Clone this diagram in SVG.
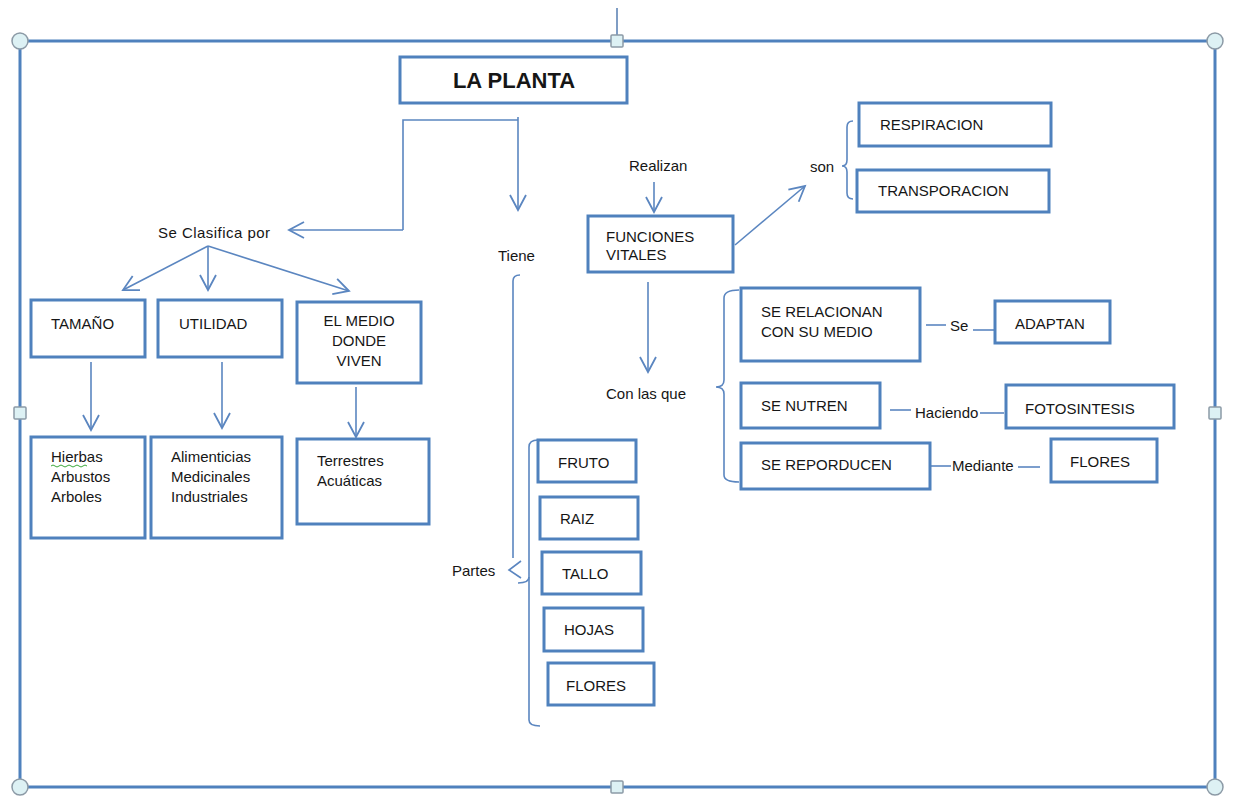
<svg xmlns="http://www.w3.org/2000/svg" width="1233" height="798" viewBox="0 0 1233 798">
<style>
  .box { fill: #ffffff; stroke: #4F81BD; stroke-width: 3; }
  .t { font-family: "Liberation Sans", Arial, sans-serif; font-size: 15px; fill: #161616; }
  .title { font-family: "Liberation Sans", Arial, sans-serif; font-size: 22px; font-weight: bold; fill: #161616; }
  .c { fill: none; stroke: #5B86C0; stroke-width: 1.6; }
  .frame { fill: none; stroke: #4F81BD; stroke-width: 3; }
  .hc { fill: #DDF1F4; stroke: #8C9AA6; stroke-width: 1.5; }
</style>
<defs>
  <marker id="arr" markerUnits="userSpaceOnUse" markerWidth="18" markerHeight="20" refX="15" refY="9" orient="auto" overflow="visible">
    <path d="M0,1 L15,9 L0,17" fill="none" stroke="#5B86C0" stroke-width="1.8"/>
  </marker>
</defs>
<rect width="1233" height="798" fill="#ffffff"/>

<g id="frame">
  <line x1="617" y1="8" x2="617" y2="41" stroke="#7F9DC4" stroke-width="2"/>
  <rect class="frame" x="20" y="41" width="1195" height="746"/>
  <circle class="hc" cx="20" cy="41" r="8"/>
  <circle class="hc" cx="1215" cy="41" r="8"/>
  <circle class="hc" cx="20" cy="787" r="8"/>
  <circle class="hc" cx="1215" cy="787" r="8"/>
  <rect class="hc" x="611" y="35" width="12" height="12" rx="1"/>
  <rect class="hc" x="611" y="781" width="12" height="12" rx="1"/>
  <rect class="hc" x="14" y="407" width="12" height="12" rx="1"/>
  <rect class="hc" x="1209" y="407" width="12" height="12" rx="1"/>
</g>

<g id="connectors">
  <path class="c" d="M403,230 L403,120 L518,120"/>
  <line class="c" x1="403" y1="230" x2="289" y2="230" marker-end="url(#arr)"/>
  <line class="c" x1="518" y1="117" x2="518" y2="210" marker-end="url(#arr)"/>
  <line class="c" x1="208" y1="246" x2="123" y2="290" marker-end="url(#arr)"/>
  <line class="c" x1="208" y1="246" x2="208" y2="290" marker-end="url(#arr)"/>
  <line class="c" x1="208" y1="246" x2="349" y2="291" marker-end="url(#arr)"/>
  <line class="c" x1="91" y1="362" x2="91" y2="430" marker-end="url(#arr)"/>
  <line class="c" x1="222" y1="362" x2="222" y2="428" marker-end="url(#arr)"/>
  <line class="c" x1="356" y1="387" x2="356" y2="437" marker-end="url(#arr)"/>
  <path class="c" d="M520,275 Q513,275 513,281 L513,558"/>
  <path class="c" d="M521,561 L509,570 L521,578"/>
  <path class="c" d="M538,440 Q529,440 529,447 L529,720 Q529,726 540,726"/>
  <path class="c" d="M518,583 Q529,583 529,577"/>
  <line class="c" x1="654" y1="182" x2="654" y2="212" marker-end="url(#arr)"/>
  <line class="c" x1="735" y1="245" x2="805" y2="186" marker-end="url(#arr)"/>
  <path class="c" d="M853,121 Q847,121 847,127 L847,160 Q847,166 842,166 Q847,166 847,172 L847,193 Q847,199 853,199"/>
  <line class="c" x1="648" y1="282" x2="648" y2="372" marker-end="url(#arr)"/>
  <path class="c" d="M739,290 Q724,290 724,298 L724,380 Q724,387 716,387 Q724,387 724,394 L724,475 Q724,482 739,482"/>
  <line class="c" x1="926" y1="325" x2="946" y2="325"/>
  <line class="c" x1="973" y1="330" x2="995" y2="330"/>
  <line class="c" x1="890" y1="410" x2="911" y2="410"/>
  <line class="c" x1="980" y1="413" x2="1004" y2="413"/>
  <line class="c" x1="930" y1="466" x2="951" y2="466"/>
  <line class="c" x1="1018" y1="467" x2="1040" y2="467"/>
</g>

<g id="labels">
  <text class="t" x="158" y="238" textLength="112">Se Clasifica por</text>
  <text class="t" x="498" y="261">Tiene</text>
  <text class="t" x="452" y="576">Partes</text>
  <text class="t" x="629" y="171">Realizan</text>
  <text class="t" x="810" y="172">son</text>
  <text class="t" x="606" y="399">Con las que</text>
  <text class="t" x="950" y="331">Se</text>
  <text class="t" x="915" y="418">Haciendo</text>
  <text class="t" x="952" y="471">Mediante</text>
</g>

<g id="n-planta"><rect class="box" x="400" y="57" width="227" height="46"/><text class="title" x="514" y="88" text-anchor="middle">LA PLANTA</text></g>

<g id="n-tamano"><rect class="box" x="31" y="300" width="114" height="57"/><text class="t" x="51" y="329">TAMAÑO</text></g>
<g id="n-utilidad"><rect class="box" x="158" y="300" width="124" height="57"/><text class="t" x="179" y="329">UTILIDAD</text></g>
<g id="n-medio"><rect class="box" x="297" y="302" width="124" height="81"/>
  <text class="t" x="359" y="326" text-anchor="middle">EL  MEDIO</text>
  <text class="t" x="359" y="346" text-anchor="middle">DONDE</text>
  <text class="t" x="359" y="366" text-anchor="middle">VIVEN</text></g>

<g id="n-hierbas"><rect class="box" x="31" y="437" width="114" height="101"/>
  <text class="t" x="51" y="462">Hierbas</text>
  <path d="M51,466 q2,-2 4,0 t4,0 t4,0 t4,0 t4,0 t4,0 t4,0 t4,0 t4,0" fill="none" stroke="#3aa83a" stroke-width="1"/>
  <text class="t" x="51" y="482">Arbustos</text>
  <text class="t" x="51" y="502">Arboles</text></g>
<g id="n-alimenticias"><rect class="box" x="151" y="437" width="131" height="101"/>
  <text class="t" x="171" y="462">Alimenticias</text>
  <text class="t" x="171" y="482">Medicinales</text>
  <text class="t" x="171" y="502">Industriales</text></g>
<g id="n-terrestres"><rect class="box" x="297" y="439" width="132" height="85"/>
  <text class="t" x="317" y="466">Terrestres</text>
  <text class="t" x="317" y="486">Acuáticas</text></g>

<g id="n-fruto"><rect class="box" x="538" y="440" width="98" height="42"/><text class="t" x="558" y="468">FRUTO</text></g>
<g id="n-raiz"><rect class="box" x="540" y="497" width="98" height="42"/><text class="t" x="560" y="524">RAIZ</text></g>
<g id="n-tallo"><rect class="box" x="542" y="552" width="99" height="42"/><text class="t" x="562" y="579">TALLO</text></g>
<g id="n-hojas"><rect class="box" x="544" y="608" width="99" height="43"/><text class="t" x="564" y="635">HOJAS</text></g>
<g id="n-flores1"><rect class="box" x="548" y="663" width="106" height="42"/><text class="t" x="566" y="691">FLORES</text></g>

<g id="n-funciones"><rect class="box" x="588" y="216" width="145" height="56"/>
  <text class="t" x="606" y="242">FUNCIONES</text>
  <text class="t" x="606" y="260">VITALES</text></g>
<g id="n-respiracion"><rect class="box" x="859" y="103" width="192" height="43"/><text class="t" x="880" y="130">RESPIRACION</text></g>
<g id="n-transporacion"><rect class="box" x="857" y="170" width="192" height="42"/><text class="t" x="878" y="196">TRANSPORACION</text></g>

<g id="n-relacionan"><rect class="box" x="741" y="288" width="179" height="73"/>
  <text class="t" x="761" y="317">SE RELACIONAN</text>
  <text class="t" x="761" y="337">CON SU MEDIO</text></g>
<g id="n-adaptan"><rect class="box" x="995" y="301" width="115" height="42"/><text class="t" x="1015" y="329">ADAPTAN</text></g>
<g id="n-nutren"><rect class="box" x="741" y="383" width="139" height="45"/><text class="t" x="761" y="411">SE NUTREN</text></g>
<g id="n-fotosintesis"><rect class="box" x="1006" y="385" width="168" height="43"/><text class="t" x="1025" y="414">FOTOSINTESIS</text></g>
<g id="n-reproducen"><rect class="box" x="741" y="443" width="189" height="46"/><text class="t" x="761" y="470">SE REPORDUCEN</text></g>
<g id="n-flores2"><rect class="box" x="1051" y="439" width="106" height="43"/><text class="t" x="1070" y="467">FLORES</text></g>
</svg>
